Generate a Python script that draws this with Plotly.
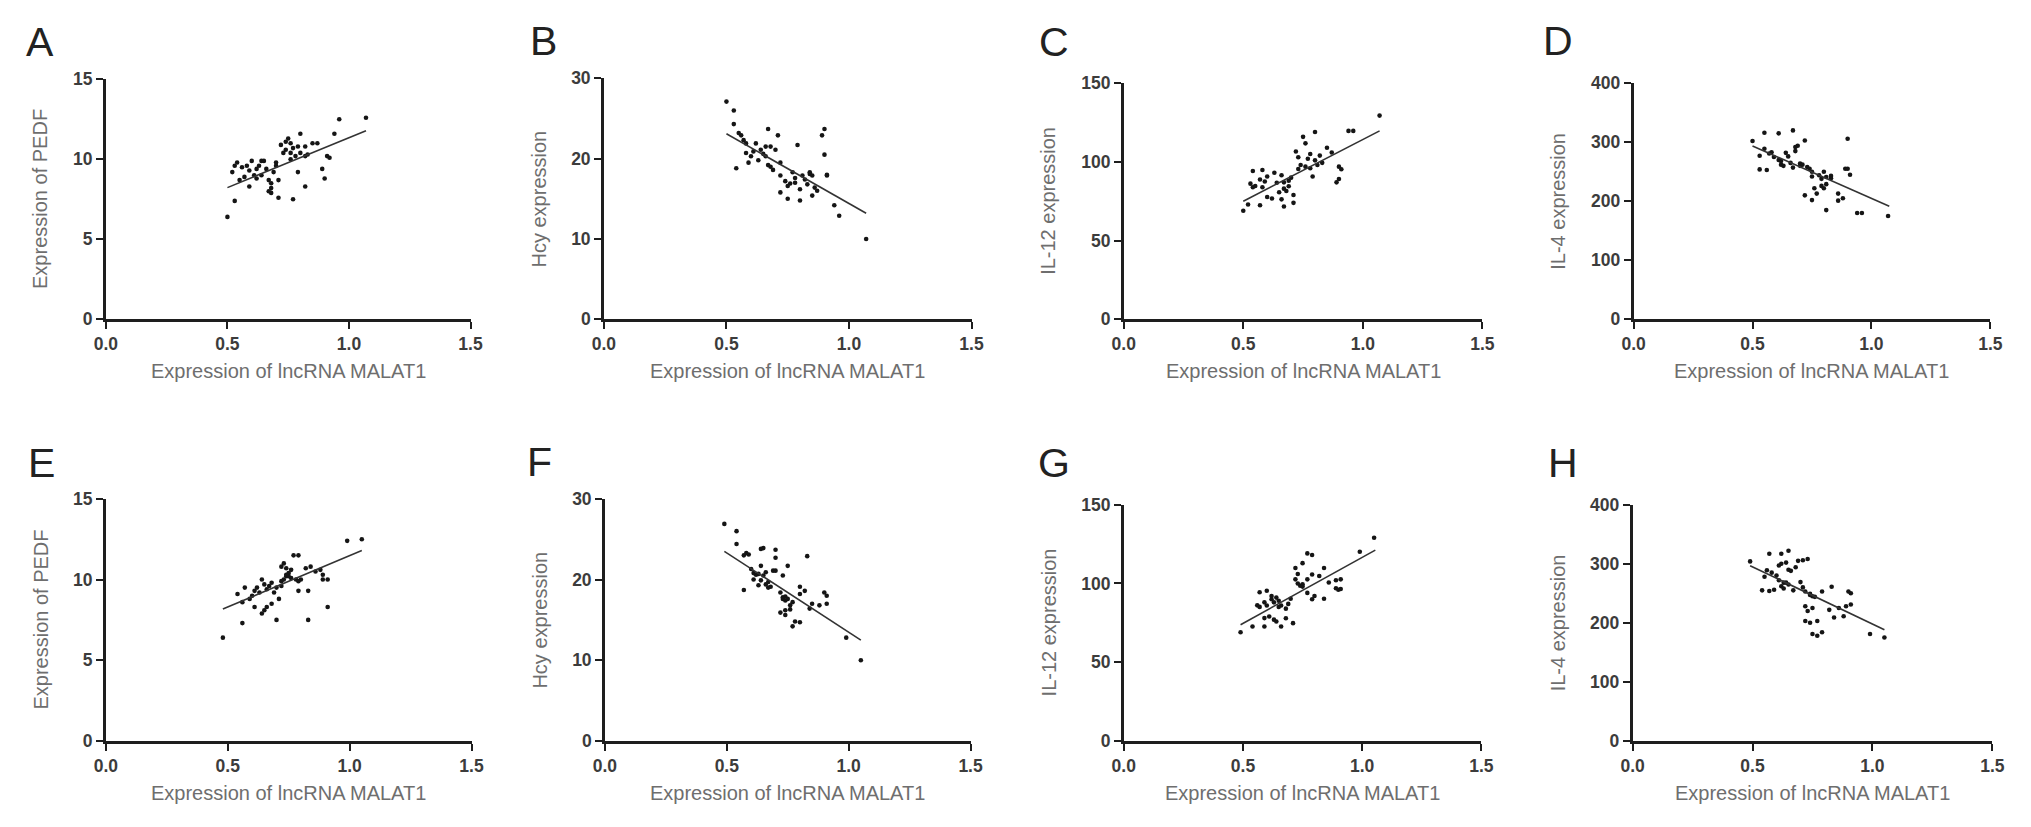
import plotly.graph_objects as go

W, H = 2031, 827

# ---- data ----
letters = ["A", "B", "C", "D", "E", "F", "G", "H"]
y_titles = ["Expression of PEDF", "Hcy expression", "IL-12 expression", "IL-4 expression",
            "Expression of PEDF", "Hcy expression", "IL-12 expression", "IL-4 expression"]
x_title = "Expression of lncRNA MALAT1"
x_ticks = [0.0, 0.5, 1.0, 1.5]
y_ticks_pedf = [0, 5, 10, 15]
y_ticks_hcy = [0, 10, 20, 30]
y_ticks_il12 = [0, 50, 100, 150]
y_ticks_il4 = [0, 100, 200, 300, 400]

a_x = [0.50, 0.53, 0.52, 0.54, 0.55, 0.56, 0.58, 0.59, 0.60, 0.59, 0.61, 0.62, 0.63, 0.64, 0.65,
       0.66, 0.67, 0.67, 0.68, 0.68, 0.69, 0.70, 0.70, 0.71, 0.71, 0.72, 0.73, 0.74, 0.75, 0.76,
       0.76, 0.77, 0.77, 0.78, 0.79, 0.79, 0.80, 0.80, 0.82, 0.82, 0.82, 0.83, 0.85, 0.87, 0.89,
       0.90, 0.91, 0.92, 0.94, 0.96, 1.07, 0.57, 0.64, 0.68, 0.74, 0.76, 0.53, 0.62]
a_y = [6.4, 7.4, 9.2, 9.8, 8.7, 9.5, 9.6, 9.3, 9.9, 8.3, 9.0, 8.8, 9.6, 9.9, 9.9,
       9.4, 8.7, 8.0, 8.2, 8.5, 9.2, 9.6, 9.8, 8.7, 7.6, 10.9, 10.4, 10.6, 11.3, 11.0,
       10.4, 7.5, 10.7, 10.2, 9.2, 10.8, 11.6, 10.4, 8.3, 10.2, 10.8, 10.3, 11.0, 11.0, 9.4,
       8.8, 10.2, 10.1, 11.6, 12.5, 12.6, 8.9, 9.0, 7.9, 11.1, 10.0, 9.6, 9.4]
a_fit_x = [0.50, 1.07]
a_fit_y = [8.23, 11.79]

b_x = [0.50, 0.53, 0.53, 0.55, 0.56, 0.54, 0.58, 0.58, 0.59, 0.60, 0.62, 0.64, 0.66, 0.67, 0.66,
       0.68, 0.67, 0.68, 0.70, 0.71, 0.72, 0.72, 0.72, 0.75, 0.75, 0.77, 0.78, 0.78, 0.79, 0.80,
       0.80, 0.81, 0.82, 0.83, 0.84, 0.85, 0.89, 0.90, 0.90, 0.91, 0.91, 0.84, 0.85, 0.86, 0.87,
       0.94, 0.96, 1.07, 0.57, 0.63, 0.69, 0.74, 0.76, 0.65, 0.61]
b_y = [27.1, 26.0, 24.3, 23.2, 22.9, 18.8, 21.9, 20.7, 19.5, 20.3, 21.9, 21.1, 20.3, 23.7, 21.5,
       21.5, 19.2, 19.0, 21.1, 22.9, 19.5, 17.9, 15.8, 16.6, 15.0, 18.3, 17.6, 17.0, 21.7, 16.2,
       14.8, 17.9, 17.4, 16.8, 18.1, 15.4, 22.9, 23.7, 20.5, 17.9, 18.0, 18.3, 17.9, 16.4, 16.0,
       14.2, 12.9, 10.0, 22.3, 19.8, 18.6, 17.2, 16.9, 20.6, 20.9]
b_fit_x = [0.50, 1.07]
b_fit_y = [23.1, 13.2]

c_x = [0.50, 0.52, 0.57, 0.54, 0.58, 0.53, 0.54, 0.55, 0.57, 0.58, 0.59, 0.60, 0.60, 0.62, 0.63,
       0.64, 0.65, 0.66, 0.67, 0.67, 0.68, 0.66, 0.67, 0.69, 0.69, 0.70, 0.71, 0.71, 0.72, 0.73,
       0.73, 0.74, 0.75, 0.76, 0.76, 0.77, 0.78, 0.78, 0.79, 0.80, 0.80, 0.81, 0.82, 0.83, 0.85,
       0.87, 0.90, 0.89, 0.90, 0.91, 0.94, 0.96, 1.07]
c_y = [69.0, 72.9, 72.5, 94.2, 94.9, 86.2, 83.9, 84.7, 88.8, 83.9, 87.6, 90.7, 77.7, 76.8, 93.1,
       86.8, 80.7, 91.5, 87.0, 83.0, 81.5, 76.2, 71.7, 88.0, 84.5, 90.0, 79.0, 74.0, 106.6, 95.5,
       103.0, 98.0, 115.9, 111.8, 97.0, 102.0, 96.0, 105.0, 90.7, 119.0, 101.0, 98.0, 104.0, 99.4, 109.0,
       106.0, 89.1, 87.0, 97.0, 95.3, 119.7, 119.7, 129.4]
c_fit_x = [0.50, 1.07]
c_fit_y = [75.0, 119.7]

d_x = [0.50, 0.55, 0.61, 0.67, 0.72, 0.53, 0.53, 0.56, 0.55, 0.57, 0.58, 0.59, 0.61, 0.62, 0.63,
       0.62, 0.64, 0.65, 0.66, 0.67, 0.68, 0.68, 0.69, 0.70, 0.70, 0.71, 0.73, 0.74, 0.75, 0.75,
       0.72, 0.76, 0.75, 0.77, 0.78, 0.79, 0.80, 0.81, 0.79, 0.80, 0.81, 0.81, 0.83, 0.83, 0.86,
       0.86, 0.88, 0.89, 0.90, 0.91, 0.90, 0.94, 0.96, 1.07]
d_y = [302, 316, 315, 320, 303, 277, 254, 253, 289, 281, 283, 275, 270, 262, 260,
       268, 282, 276, 265, 257, 292, 285, 294, 264, 260, 262, 258, 255, 250, 242,
       210, 222, 202, 213, 244, 238, 250, 241, 226, 222, 229, 185, 243, 239, 213,
       201, 205, 255, 255, 245, 306, 180, 180, 175]
d_fit_x = [0.50, 1.075]
d_fit_y = [293.6, 191.7]

e_x = [0.48, 0.56, 0.54, 0.56, 0.57, 0.59, 0.60, 0.61, 0.62, 0.61, 0.64, 0.65, 0.66, 0.67, 0.64,
       0.65, 0.66, 0.68, 0.69, 0.70, 0.71, 0.70, 0.72, 0.72, 0.73, 0.74, 0.72, 0.73, 0.74, 0.75,
       0.75, 0.76, 0.77, 0.79, 0.78, 0.79, 0.79, 0.83, 0.80, 0.82, 0.84, 0.83, 0.86, 0.88, 0.89,
       0.89, 0.91, 0.91, 0.99, 1.05, 0.63, 0.68, 0.74, 0.76]
e_y = [6.4, 7.3, 9.1, 8.6, 9.5, 8.8, 9.0, 9.3, 9.5, 8.3, 10.0, 9.7, 9.4, 9.6, 7.9,
       8.1, 8.3, 8.5, 9.2, 9.5, 8.8, 7.5, 9.6, 9.9, 10.0, 10.2, 10.8, 11.0, 10.7, 10.4,
       10.2, 10.6, 11.5, 11.5, 10.0, 9.9, 9.3, 9.3, 10.0, 10.7, 10.8, 7.5, 10.5, 10.6, 10.3,
       10.0, 10.0, 8.3, 12.4, 12.5, 9.2, 9.8, 10.3, 10.1]
e_fit_x = [0.48, 1.05]
e_fit_y = [8.17, 11.8]

f_x = [0.49, 0.54, 0.54, 0.57, 0.58, 0.59, 0.57, 0.60, 0.61, 0.62, 0.61, 0.64, 0.63, 0.64, 0.65,
       0.64, 0.66, 0.67, 0.68, 0.65, 0.66, 0.69, 0.70, 0.70, 0.70, 0.73, 0.75, 0.72, 0.73, 0.74,
       0.74, 0.75, 0.72, 0.74, 0.74, 0.76, 0.77, 0.78, 0.80, 0.77, 0.80, 0.80, 0.83, 0.82, 0.84,
       0.85, 0.88, 0.90, 0.91, 0.91, 0.99, 1.05, 0.63, 0.67, 0.73, 0.76]
f_y = [26.9, 26.0, 24.4, 23.0, 23.3, 23.1, 18.7, 21.3, 20.0, 20.6, 20.8, 21.7, 20.7, 23.8, 23.9,
       19.9, 19.4, 19.7, 19.1, 20.5, 20.9, 21.1, 21.1, 23.7, 22.7, 20.5, 21.7, 18.4, 17.8, 17.4,
       17.9, 17.6, 15.9, 15.6, 16.2, 16.8, 17.2, 14.8, 14.7, 14.2, 19.1, 18.2, 22.9, 18.6, 16.4,
       17.0, 16.8, 18.4, 17.0, 18.0, 12.8, 10.0, 19.3, 19.0, 17.6, 16.3]
f_fit_x = [0.49, 1.05]
f_fit_y = [23.5, 12.5]

g_x = [0.49, 0.54, 0.59, 0.57, 0.60, 0.56, 0.57, 0.59, 0.60, 0.62, 0.59, 0.61, 0.63, 0.62, 0.64,
       0.65, 0.66, 0.64, 0.66, 0.68, 0.69, 0.68, 0.71, 0.70, 0.72, 0.73, 0.72, 0.75, 0.77, 0.79,
       0.74, 0.75, 0.77, 0.79, 0.77, 0.79, 0.80, 0.84, 0.82, 0.84, 0.86, 0.89, 0.91, 0.89, 0.90,
       0.91, 0.99, 1.05, 0.63, 0.65, 0.73, 0.75]
g_y = [69.0, 72.7, 72.7, 94.4, 95.4, 86.1, 85.1, 88.0, 86.0, 90.0, 78.0, 79.0, 77.0, 92.0, 91.0,
       89.0, 72.7, 75.8, 86.0, 84.0, 87.0, 77.9, 74.8, 90.3, 109.8, 106.0, 102.6, 112.9, 119.1, 118.1,
       98.5, 99.5, 102.6, 105.7, 94.0, 90.0, 92.0, 109.8, 104.7, 90.3, 100.6, 102.0, 102.6, 97.0, 96.0,
       96.5, 120.1, 129.0, 88.0, 85.0, 100.0, 98.0]
g_fit_x = [0.49, 1.055]
g_fit_y = [73.8, 121.2]

h_x = [0.49, 0.57, 0.62, 0.65, 0.55, 0.54, 0.57, 0.59, 0.56, 0.58, 0.60, 0.61, 0.62, 0.64, 0.61,
       0.62, 0.64, 0.63, 0.65, 0.65, 0.66, 0.68, 0.67, 0.69, 0.71, 0.73, 0.70, 0.71, 0.72, 0.74,
       0.75, 0.76, 0.72, 0.73, 0.75, 0.72, 0.74, 0.77, 0.75, 0.77, 0.79, 0.79, 0.83, 0.82, 0.84,
       0.86, 0.89, 0.91, 0.88, 0.90, 0.91, 0.99, 1.05, 0.63, 0.74]
h_y = [304, 317, 317, 322, 278, 255, 254, 256, 289, 285, 280, 297, 300, 302, 272,
       262, 268, 258, 265, 290, 288, 294, 255, 305, 306, 308, 269, 260, 253, 247,
       245, 244, 228, 220, 225, 203, 200, 203, 181, 178, 184, 253, 261, 222, 209,
       225, 228, 231, 211, 253, 250, 181, 175, 268, 249]
h_fit_x = [0.49, 1.05]
h_fit_y = [296.8, 188.1]

# ---- layout of the 8 panels, in page pixels: x0, x1, ytop, ybottom ----
boxes = [(95, 464, 71, 317), (599, 971, 70, 317), (1125, 1488, 75, 317), (1641, 2002, 75, 317),
         (95, 465, 501, 749), (600, 970, 501, 749), (1125, 1487, 507, 749), (1640, 2004, 507, 749)]
# left edge and vertical centre of each panel letter
letter_pos = [(12, 33), (522, 32), (1037, 33), (1547, 32),
              (14, 464), (519, 463), (1036, 464), (1552, 464)]

panels = [
    (a_x, a_y, a_fit_x, a_fit_y, y_ticks_pedf),
    (b_x, b_y, b_fit_x, b_fit_y, y_ticks_hcy),
    (c_x, c_y, c_fit_x, c_fit_y, y_ticks_il12),
    (d_x, d_y, d_fit_x, d_fit_y, y_ticks_il4),
    (e_x, e_y, e_fit_x, e_fit_y, y_ticks_pedf),
    (f_x, f_y, f_fit_x, f_fit_y, y_ticks_hcy),
    (g_x, g_y, g_fit_x, g_fit_y, y_ticks_il12),
    (h_x, h_y, h_fit_x, h_fit_y, y_ticks_il4),
]

FONT = "Liberation Sans, Arial, Helvetica, sans-serif"
tickfont = dict(family=FONT, size=17.5, color="#3c3c3c", weight="bold")

fig = go.Figure()
layout = {}
annotations = []

for i, (px, py, fx, fy, yt) in enumerate(panels):
    n = "" if i == 0 else str(i + 1)
    xa, ya = "x" + n, "y" + n
    x0, x1, yt0, yb = boxes[i]

    fig.add_trace(go.Scatter(x=px, y=py, mode="markers", xaxis=xa, yaxis=ya,
                             marker=dict(size=4.6, color="#151515"), showlegend=False,
                             cliponaxis=False))
    fig.add_trace(go.Scatter(x=fx, y=fy, mode="lines", xaxis=xa, yaxis=ya,
                             line=dict(color="#333333", width=1.6), showlegend=False))

    axis_common = dict(showline=True, linecolor="#1e1e1e", linewidth=2.6, ticks="outside",
                       ticklen=7, tickwidth=2.2, tickcolor="#1e1e1e", showgrid=False,
                       zeroline=False, tickfont=tickfont, fixedrange=True)
    layout["xaxis" + n] = dict(axis_common, domain=[x0 / W, x1 / W], range=[0, 1.5],
                               tickvals=x_ticks, tickformat=".1f", anchor=ya)
    layout["yaxis" + n] = dict(axis_common, domain=[1 - yb / H, 1 - yt0 / H],
                               range=[0, yt[-1]], tickvals=yt, anchor=xa)

    # axis titles
    annotations.append(dict(text=x_title, xref="paper", yref="paper",
                            x=(x0 + x1) / 2 / W, y=1 - (yb + 53) / H,
                            xanchor="center", yanchor="middle", showarrow=False,
                            font=dict(family=FONT, size=20, color="#6e6e6e")))
    off = 76 if yt[-1] >= 100 else 66
    annotations.append(dict(text=y_titles[i], xref="paper", yref="paper",
                            x=(x0 - off) / W, y=1 - (yt0 + yb) / 2 / H, textangle=-90,
                            xanchor="center", yanchor="middle", showarrow=False,
                            font=dict(family=FONT, size=20, color="#6e6e6e")))
    # panel letter
    lx, ly = letter_pos[i]
    annotations.append(dict(text=letters[i], xref="paper", yref="paper",
                            x=lx / W, y=1 - ly / H, xanchor="left", yanchor="middle",
                            showarrow=False,
                            font=dict(family=FONT, size=41, color="#222222")))

fig.update_layout(layout)
fig.update_layout(width=W, height=H, margin=dict(l=0, r=0, t=0, b=0),
                  paper_bgcolor="white", plot_bgcolor="white",
                  annotations=annotations, showlegend=False)

# drop the browser's default body margin so the figure sits at the page origin
fig.write_html("out.html", config={"displayModeBar": False},
               post_script="document.body.style.margin='0';document.body.style.overflow='hidden';")
